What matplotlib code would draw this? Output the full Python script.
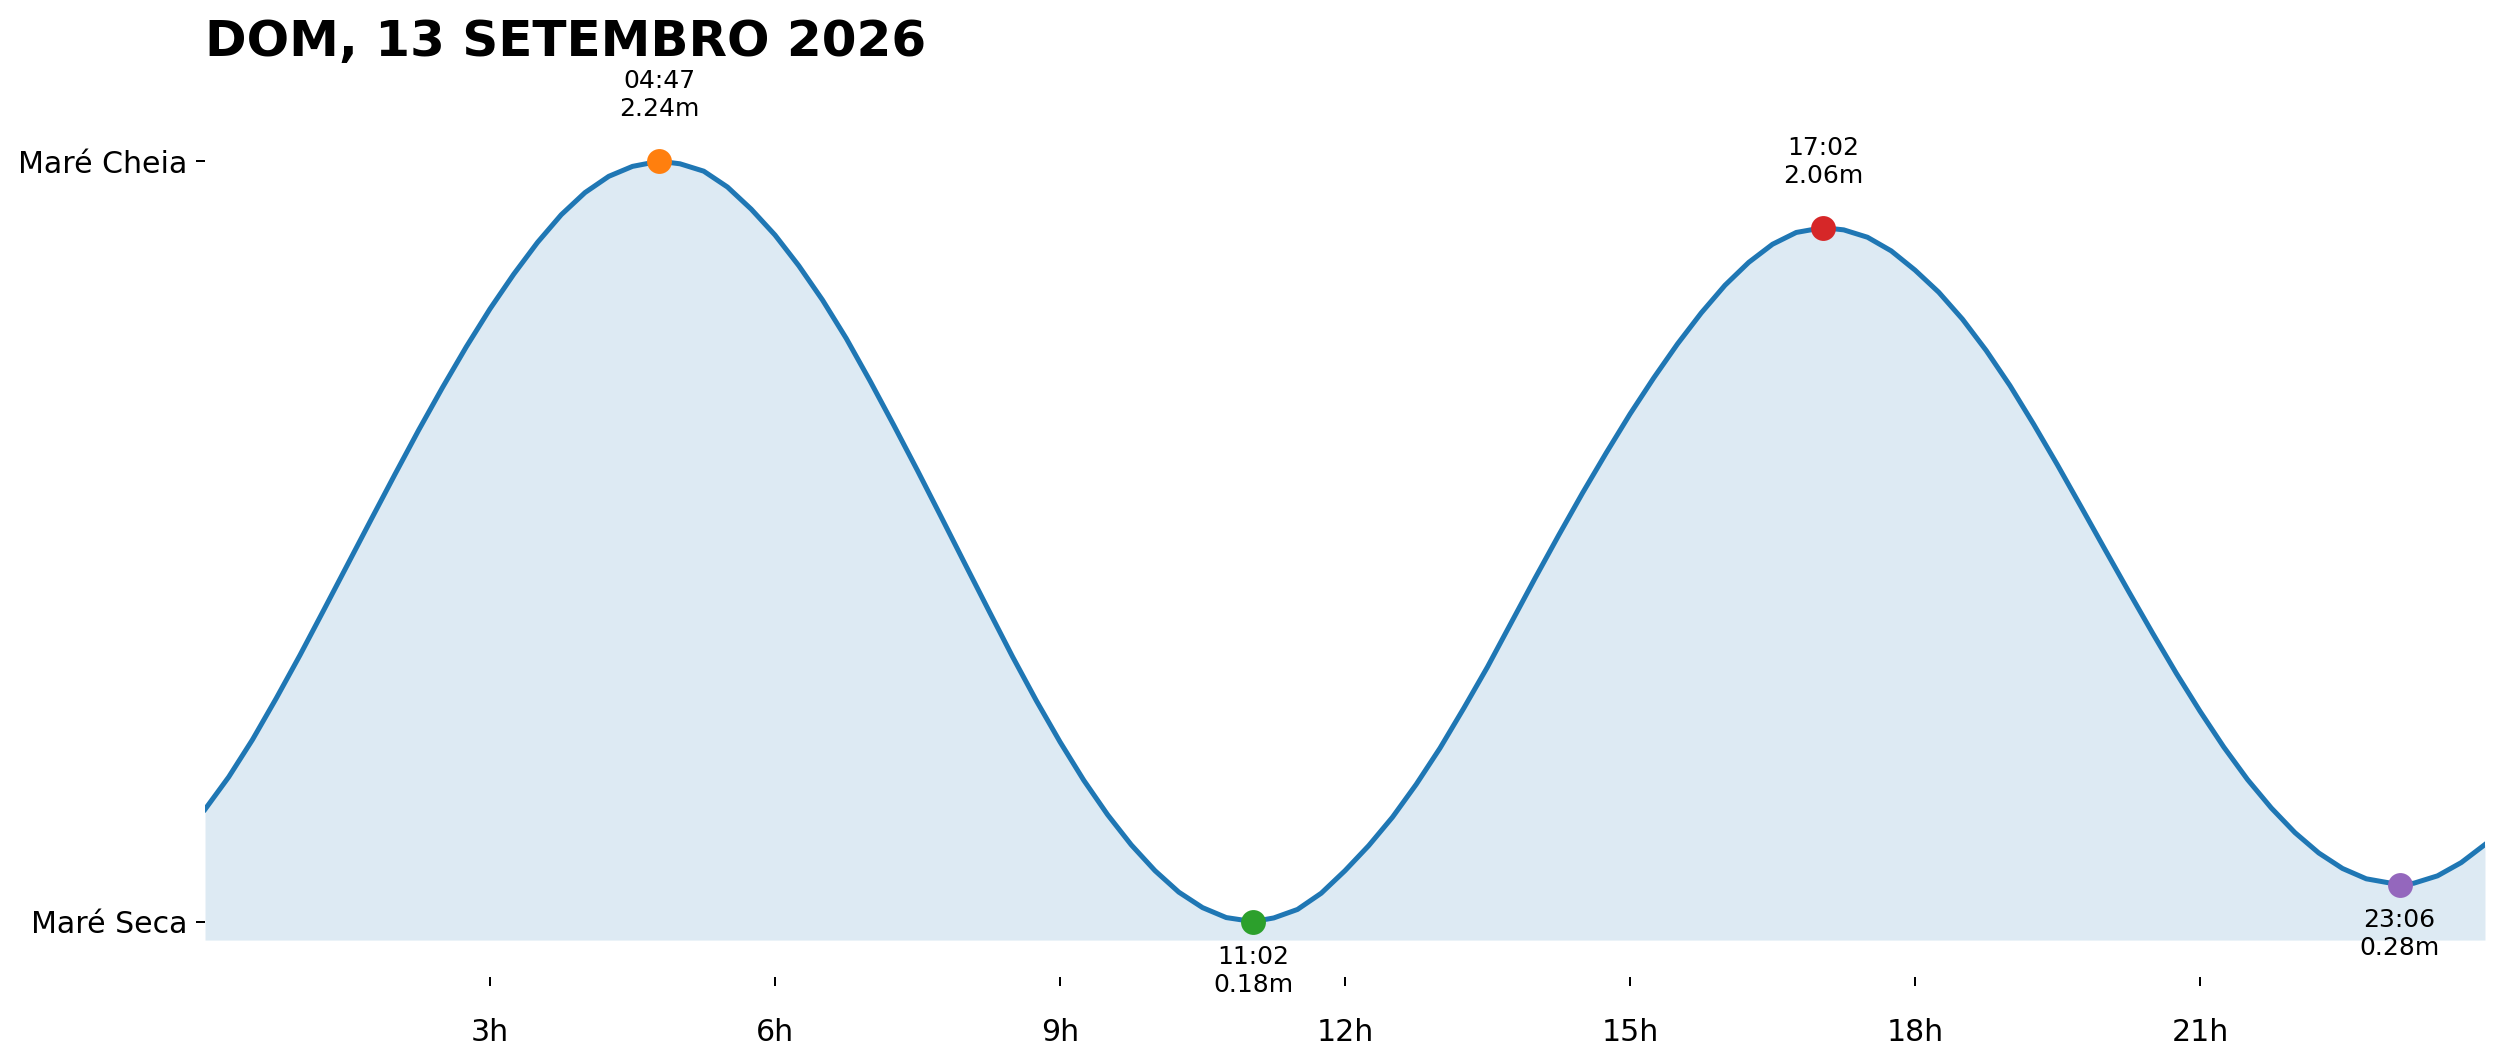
import numpy as np
import matplotlib.pyplot as plt

# tide curve (hours since midnight, height in metres)
curve_hours = [0, 0.25, 0.5, 0.75, 1, 1.25, 1.5, 1.75, 2, 2.25, 2.5, 2.75, 3, 3.25,
               3.5, 3.75, 4, 4.25, 4.5, 4.783, 5, 5.25, 5.5, 5.75, 6, 6.25, 6.5,
               6.75, 7, 7.25, 7.5, 7.75, 8, 8.25, 8.5, 8.75, 9, 9.25, 9.5, 9.75,
               10, 10.25, 10.5, 10.75, 11.033, 11.25, 11.5, 11.75, 12, 12.25, 12.5,
               12.75, 13, 13.25, 13.5, 13.75, 14, 14.25, 14.5, 14.75, 15, 15.25,
               15.5, 15.75, 16, 16.25, 16.5, 16.75, 17.033, 17.25, 17.5, 17.75, 18,
               18.25, 18.5, 18.75, 19, 19.25, 19.5, 19.75, 20, 20.25, 20.5, 20.75,
               21, 21.25, 21.5, 21.75, 22, 22.25, 22.5, 22.75, 23.1, 23.25, 23.5,
               23.75, 24]
curve_heights = [0.484, 0.572, 0.673, 0.785, 0.902, 1.024, 1.147, 1.270, 1.392, 1.512,
                 1.627, 1.737, 1.840, 1.934, 2.020, 2.095, 2.155, 2.199, 2.226, 2.240,
                 2.233, 2.213, 2.170, 2.110, 2.040, 1.957, 1.864, 1.760, 1.645, 1.525,
                 1.402, 1.276, 1.149, 1.023, 0.898, 0.779, 0.667, 0.563, 0.470, 0.388,
                 0.318, 0.260, 0.218, 0.191, 0.180, 0.190, 0.213, 0.257, 0.318, 0.386,
                 0.463, 0.552, 0.650, 0.758, 0.870, 0.990, 1.110, 1.227, 1.341, 1.450,
                 1.555, 1.653, 1.745, 1.829, 1.904, 1.966, 2.015, 2.047, 2.060, 2.054,
                 2.034, 1.997, 1.945, 1.885, 1.812, 1.727, 1.632, 1.527, 1.417, 1.303,
                 1.188, 1.074, 0.962, 0.853, 0.750, 0.653, 0.565, 0.488, 0.421, 0.366,
                 0.324, 0.296, 0.280, 0.284, 0.304, 0.340, 0.389]

tide_times = ["04:47", "11:02", "17:02", "23:06"]
tide_heights = [2.24, 0.18, 2.06, 0.28]
tide_kind = ["high", "low", "high", "low"]
dot_colors = ["C1", "C2", "C3", "C4"]

tick_hours = [3, 6, 9, 12, 15, 18, 21]
tick_labels = [f"{h}h" for h in tick_hours]
title = "DOM, 13 SETEMBRO 2026"

tide_hours = [int(t[:2]) + int(t[3:]) / 60 for t in tide_times]
low = min(tide_heights)
high = max(tide_heights)

fig = plt.figure(figsize=(2501 / 180, 1062 / 180), dpi=180)
ax = fig.add_axes([205 / 2501, 85 / 1062, 2280 / 2501, 897 / 1062])

ax.plot(curve_hours, curve_heights, color="C0", lw=2)
ax.fill_between(curve_hours, curve_heights, low - 0.05, color="C0", alpha=0.15, lw=0)

for h, v, t, k, c in zip(tide_hours, tide_heights, tide_times, tide_kind, dot_colors):
    ax.scatter(h, v, s=80, color=c, zorder=3)
    if k == "high":
        ax.annotate(f"{t}\n{v:.2f}m", (h, v), xytext=(0, 16), textcoords="offset points",
                    ha="center", va="bottom", fontsize=10)
    else:
        ax.annotate(f"{t}\n{v:.2f}m", (h, v), xytext=(0, -9.5), textcoords="offset points",
                    ha="center", va="top", fontsize=10)

ax.set_xlim(0, 24)
ax.set_ylim(low - 0.15, high + 0.22)
ax.set_xticks(tick_hours, tick_labels)
ax.set_yticks([low, high], ["Maré Seca", "Maré Cheia"])
ax.tick_params(axis="x", labelsize=12, pad=13)
ax.tick_params(axis="y", labelsize=12)
for s in ax.spines.values():
    s.set_visible(False)

ax.set_title(title, loc="left", fontsize=20, fontweight="bold", pad=9.6)

fig.savefig("out.png", dpi=180)
